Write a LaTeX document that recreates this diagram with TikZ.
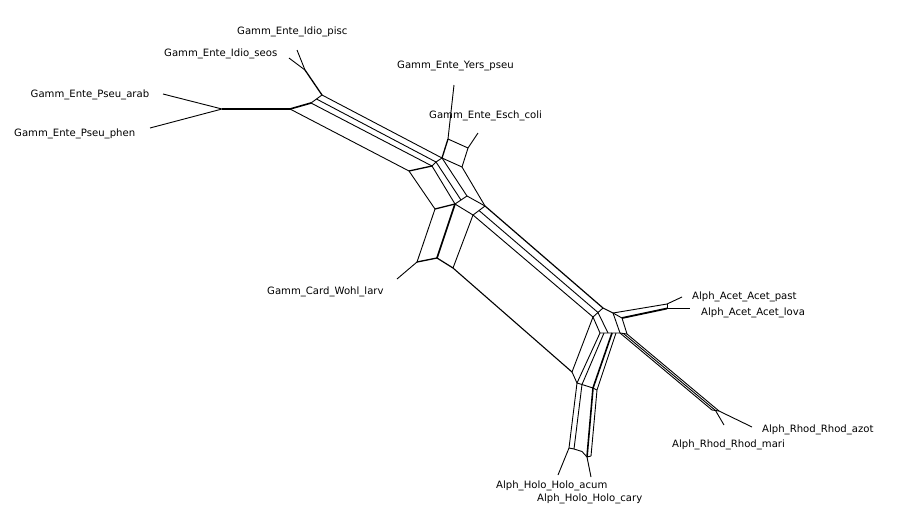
\documentclass[tikz,border=0pt]{standalone}
\usepackage{fontspec}
\setmainfont{DejaVu Sans}
\begin{document}
\begin{tikzpicture}[x=1pt,y=-1pt,
  edge/.style={line width=0.9pt, line join=round},
  thk/.style={line width=1.6pt},
  vthk/.style={line width=2.8pt},
  lab/.style={anchor=base west, inner sep=0pt, font=\fontsize{10.1}{12}\selectfont}]
\useasboundingbox (0,0) rectangle (900,528);
% ---- top-left hub
\coordinate (pisc) at (297,50);
\coordinate (seos) at (289,58);
\coordinate (D) at (305,70);
\coordinate (C) at (322,95);
\coordinate (Cm) at (316.5,99);
\coordinate (B2) at (311,103);
\coordinate (B) at (290,109);
\coordinate (A) at (222,109);
\coordinate (arab) at (163,94);
\coordinate (phen) at (150,128);
% ---- centre hub
\coordinate (Y4) at (442,158);
\coordinate (Y4m) at (436,162);
\coordinate (Y5) at (432,166);
\coordinate (Y6) at (409,171);
\coordinate (Y1) at (448,139);
\coordinate (yers) at (454,85);
\coordinate (Y2) at (468,148);
\coordinate (esch) at (478,133);
\coordinate (Y3) at (462,167);
% ---- lower centre
\coordinate (M1) at (467,196);
\coordinate (M1m) at (461,200);
\coordinate (M2) at (455,204);
\coordinate (M3) at (435,209);
\coordinate (M4) at (485,206);
\coordinate (M4m) at (479,210.5);
\coordinate (M5) at (473,215);
% ---- Card box
\coordinate (K1) at (417,262);
\coordinate (K2) at (437,258);
\coordinate (K3) at (453,268);
\coordinate (larv) at (397,279);
% ---- south-east hub
\coordinate (E1) at (603,308);
\coordinate (E2) at (598,312.5);
\coordinate (E3) at (593,317);
\coordinate (S1) at (613,313);
\coordinate (S2) at (622,318);
\coordinate (Ac1) at (667,304);
\coordinate (Ac2) at (667,308.5);
\coordinate (past) at (682,297);
\coordinate (lova) at (690,308.5);
\coordinate (P3) at (600,333);
\coordinate (P2) at (608,333);
\coordinate (P4) at (612,333);
\coordinate (Ra) at (620,333);
\coordinate (Rb) at (623.5,333.5);
\coordinate (Rc) at (627,334);
\coordinate (Rae) at (712,410);
\coordinate (Rbe) at (715.5,410.5);
\coordinate (Rce) at (719,411);
\coordinate (azot) at (752,427);
\coordinate (mari) at (724,425);
\coordinate (Q) at (572,372);
\coordinate (HB1) at (577,383);
\coordinate (HB1m) at (582,384.5);
\coordinate (HB2) at (593,388);
\coordinate (HB2m) at (597,390);
\coordinate (HB3) at (569,448);
\coordinate (HB3m) at (574,449);
\coordinate (HB5) at (582,451.5);
\coordinate (HB4) at (587,457);
\coordinate (acum) at (558,475);
\coordinate (cary) at (591,477);

% ---- edges: top-left
\draw[edge] (arab)--(A)--(phen);
\draw[edge,vthk] (A)--(B);
\draw[edge,thk] (B)--(B2);
\draw[edge] (B2)--(Cm)--(C);
\draw[edge] (pisc)--(D);
\draw[edge] (seos)--(D);
\draw[edge,line width=1.3pt] (D)--(C);
% band to centre
\draw[edge] (C)--(Y4);
\draw[edge] (Cm)--(Y4m);
\draw[edge] (B2)--(Y5);
\draw[edge] (B)--(Y6);
\draw[edge] (Y4)--(Y4m)--(Y5);
\draw[edge,line width=1.3pt] (Y5)--(Y6);
% centre box
\draw[edge] (yers)--(Y1)--(Y2)--(esch);
\draw[edge] (Y2)--(Y3)--(Y4);
\draw[edge,line width=1.3pt] (Y1)--(Y4);
% centre down
\draw[edge] (Y4)--(M1);
\draw[edge] (Y3)--(M4);
\draw[edge] (Y4m)--(M1m);
\draw[edge] (Y5)--(M2);
\draw[edge] (Y6)--(M3);
\draw[edge] (M1)--(M4);
\draw[edge] (M2)--(M1m)--(M1);
\draw[edge,line width=1.3pt] (M3)--(M2);
% Card box
\draw[edge] (M3)--(K1);
\draw[edge,thk] (M2)--(K2);
\draw[edge] (M5)--(K3);
\draw[edge,line width=1.3pt] (K1)--(K2);
\draw[edge,line width=1.2pt] (K2)--(K3);
\draw[edge] (K1)--(larv);
\draw[edge] (M2)--(M5);
\draw[edge] (M5)--(M4m)--(M4);
% long band
\draw[edge,line width=1.2pt] (M4)--(E1);
\draw[edge] (M4m)--(E2);
\draw[edge] (M5)--(E3);
\draw[edge,line width=1.1pt] (K3)--(Q);
\draw[edge] (E1)--(E2)--(E3);
% south-east hub
\draw[edge] (E3)--(Q);
\draw[edge] (E3)--(P3)--(P2)--(P4)--(Ra)--(Rb)--(Rc);
\draw[edge] (E2)--(P2);
\draw[edge] (E1)--(S1)--(S2);
\draw[edge] (S1)--(Ra);
\draw[edge] (S2)--(Rc);
% Acet
\draw[edge] (S1)--(Ac1);
\draw[edge,line width=1.8pt] (S2)--(Ac2);
\draw[edge] (Ac1)--(Ac2);
\draw[edge] (Ac1)--(past);
\draw[edge] (Ac2)--(lova);
% Rhod
\draw[edge] (Ra)--(Rae);
\draw[edge] (Rb)--(Rbe);
\draw[edge] (Rc)--(Rce);
\draw[edge] (Rae)--(Rbe)--(Rce);
\draw[edge] (Rce)--(azot);
\draw[edge] (Rbe)--(mari);
% Holo
\draw[edge] (P3)--(HB1);
\draw[edge] (604,333)--(HB1m);
\draw[edge,thk] (P4)--(HB2);
\draw[edge] (616,333)--(HB2m);
\draw[edge] (Q)--(HB1)--(HB1m)--(HB2)--(HB2m);
\draw[edge] (HB1)--(HB3);
\draw[edge] (HB1m)--(HB3m);
\draw[edge,thk] (HB2)--(HB4);
\draw[edge] (HB2m)--(591,456);
\draw[edge] (HB3)--(HB3m)--(HB5)--(HB4)--(591,456);
\draw[edge] (HB3)--(acum);
\draw[edge] (HB4)--(cary);

% ---- labels
\node[lab] (lpisc) at (237,34.5) {Gamm\_Ente\_Idio\_pisc};
\node[lab] (lseos) at (164,56.5) {Gamm\_Ente\_Idio\_seos};
\node[lab] (lyers) at (397,68) {Gamm\_Ente\_Yers\_pseu};
\node[lab] (larab) at (30.5,97) {Gamm\_Ente\_Pseu\_arab};
\node[lab] (lesch) at (429,118) {Gamm\_Ente\_Esch\_coli};
\node[lab] (lphen) at (14,136.5) {Gamm\_Ente\_Pseu\_phen};
\node[lab] (llarv) at (267,294) {Gamm\_Card\_Wohl\_larv};
\node[lab] (lpast) at (692,299) {Alph\_Acet\_Acet\_past};
\node[lab] (llova) at (701,315) {Alph\_Acet\_Acet\_lova};
\node[lab] (lazot) at (762,432.5) {Alph\_Rhod\_Rhod\_azot};
\node[lab] (lmari) at (672,447) {Alph\_Rhod\_Rhod\_mari};
\node[lab] (lacum) at (496,488.5) {Alph\_Holo\_Holo\_acum};
\node[lab] (lcary) at (537,501) {Alph\_Holo\_Holo\_cary};
\end{tikzpicture}
\end{document}
